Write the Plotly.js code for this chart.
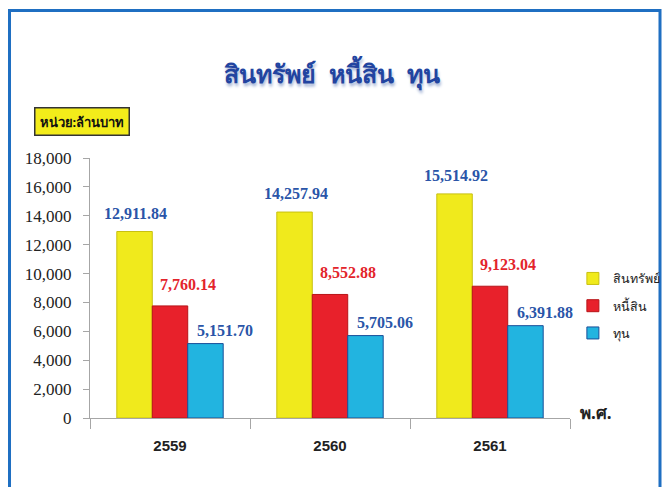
<!DOCTYPE html>
<html>
<head>
<meta charset="utf-8">
<script src="https://cdn.plot.ly/plotly-3.0.1.min.js"></script>
<style>
html,body{margin:0;padding:0;background:#fff;}
#chart{width:665px;height:487px;}
</style>
</head>
<body>
<div id="chart"></div>
<script>
const years = ['2559', '2560', '2561'];
const seriesNames = ['สินทรัพย์', 'หนี้สิน', 'ทุน'];
const assets = [12911.84, 14257.94, 15514.92];
const liabilities = [7760.14, 8552.88, 9123.04];
const equity = [5151.70, 5705.06, 6391.88];
const yTickVals = [0, 2000, 4000, 6000, 8000, 10000, 12000, 14000, 16000, 18000];
const yTickText = ['0', '2,000', '4,000', '6,000', '8,000', '10,000', '12,000', '14,000', '16,000', '18,000'];

const colors = ['#f0ea1c', '#e8212b', '#22b4e0'];
const lineColors = ['#c8c010', '#b81418', '#1a4f9a'];
const labelColors = ['#2a55a8', '#e3242b', '#2a55a8'];
const values = [assets, liabilities, equity];

const traces = values.map((v, i) => ({
  type: 'bar',
  name: seriesNames[i],
  x: years,
  y: v,
  legendgroup: 'g' + i,
  marker: {color: colors[i], line: {color: lineColors[i], width: 1}},
  hoverinfo: 'none'
}));

const fmt = v => v.toLocaleString('en-US', {minimumFractionDigits: 2, maximumFractionDigits: 2});
const xshifts = [2, 18, 18];
const yshifts = [8, 11, 3];
const annotations = [];
values.forEach((v, i) => {
  v.forEach((val, j) => {
    annotations.push({
      x: j, y: val, xref: 'x', yref: 'y',
      text: '<b>' + fmt(val) + '</b>',
      showarrow: false,
      xshift: (i - 1) * 36.5 + xshifts[i],
      yshift: yshifts[i],
      yanchor: 'bottom',
      font: {family: 'Liberation Serif, DejaVu Serif, serif', size: 16, color: labelColors[i]}
    });
  });
});

annotations.push({
  xref: 'paper', yref: 'paper', x: -0.0167, y: 1.14,
  xanchor: 'center', yanchor: 'middle',
  text: '<b>หน่วย:ล้านบาท</b>', showarrow: false,
  bgcolor: '#f3ec1a', bordercolor: '#333', borderwidth: 1.5, borderpad: 4,
  font: {family: 'Noto Sans, Tahoma, sans-serif', size: 13, color: '#111'}
});
annotations.push({
  xref: 'paper', yref: 'paper', x: 1.017, y: 0.02,
  xanchor: 'left', yanchor: 'middle',
  text: '<b>พ.ศ.</b>', showarrow: false,
  font: {family: 'Noto Sans, Tahoma, sans-serif', size: 17, color: '#222'}
});

const layout = {
  width: 665, height: 487,
  margin: {l: 90, r: 95, t: 158, b: 69, autoexpand: false},
  paper_bgcolor: '#fff', plot_bgcolor: '#fff',
  barmode: 'group', bargap: 0.335, bargroupgap: 0,
  showlegend: true,
  title: {
    text: '<b>สินทรัพย์  หนี้สิน  ทุน</b>',
    x: 0.5, xanchor: 'center', y: 0.848, yanchor: 'middle',
    font: {family: 'Noto Sans, Tahoma, sans-serif', size: 25, color: '#2244a0', shadow: '1px 3px 3px #a9b8d8'}
  },
  xaxis: {
    type: 'category', range: [-0.5, 2.5],
    showline: true, linecolor: '#a6a6a6', linewidth: 1,
    ticks: 'outside', tickson: 'boundaries', ticklen: 10, tickcolor: '#a6a6a6',
    ticklabelstandoff: 14,
    tickfont: {family: 'Liberation Sans, Arial, sans-serif', size: 15, color: '#222', weight: 'bold'},
    showgrid: false, zeroline: false, fixedrange: true
  },
  yaxis: {
    range: [0, 18000],
    tickvals: yTickVals, ticktext: yTickText,
    showline: true, linecolor: '#a6a6a6', linewidth: 1,
    ticks: 'outside', ticklen: 6, tickcolor: '#a6a6a6',
    ticklabelstandoff: 8,
    tickfont: {family: 'Liberation Serif, DejaVu Serif, serif', size: 17, color: '#222'},
    showgrid: false, zeroline: false, fixedrange: true
  },
  legend: {
    x: 1.006, y: 0.593, xanchor: 'left', yanchor: 'top',
    traceorder: 'grouped', tracegroupgap: 8,
    itemwidth: 30,
    font: {family: 'Noto Sans, Tahoma, sans-serif', size: 12.5, color: '#222'},
    bgcolor: 'rgba(0,0,0,0)'
  },
  annotations: annotations,
  shapes: [{
    type: 'rect', xref: 'paper', yref: 'paper',
    x0: -0.1677, x1: 1.1875, y0: -0.30, y1: 1.567,
    line: {color: '#1f6fc2', width: 3}, fillcolor: 'rgba(0,0,0,0)', layer: 'below'
  }]
};

Plotly.newPlot('chart', traces, layout, {displayModeBar: false, staticPlot: true});
</script>
</body>
</html>
